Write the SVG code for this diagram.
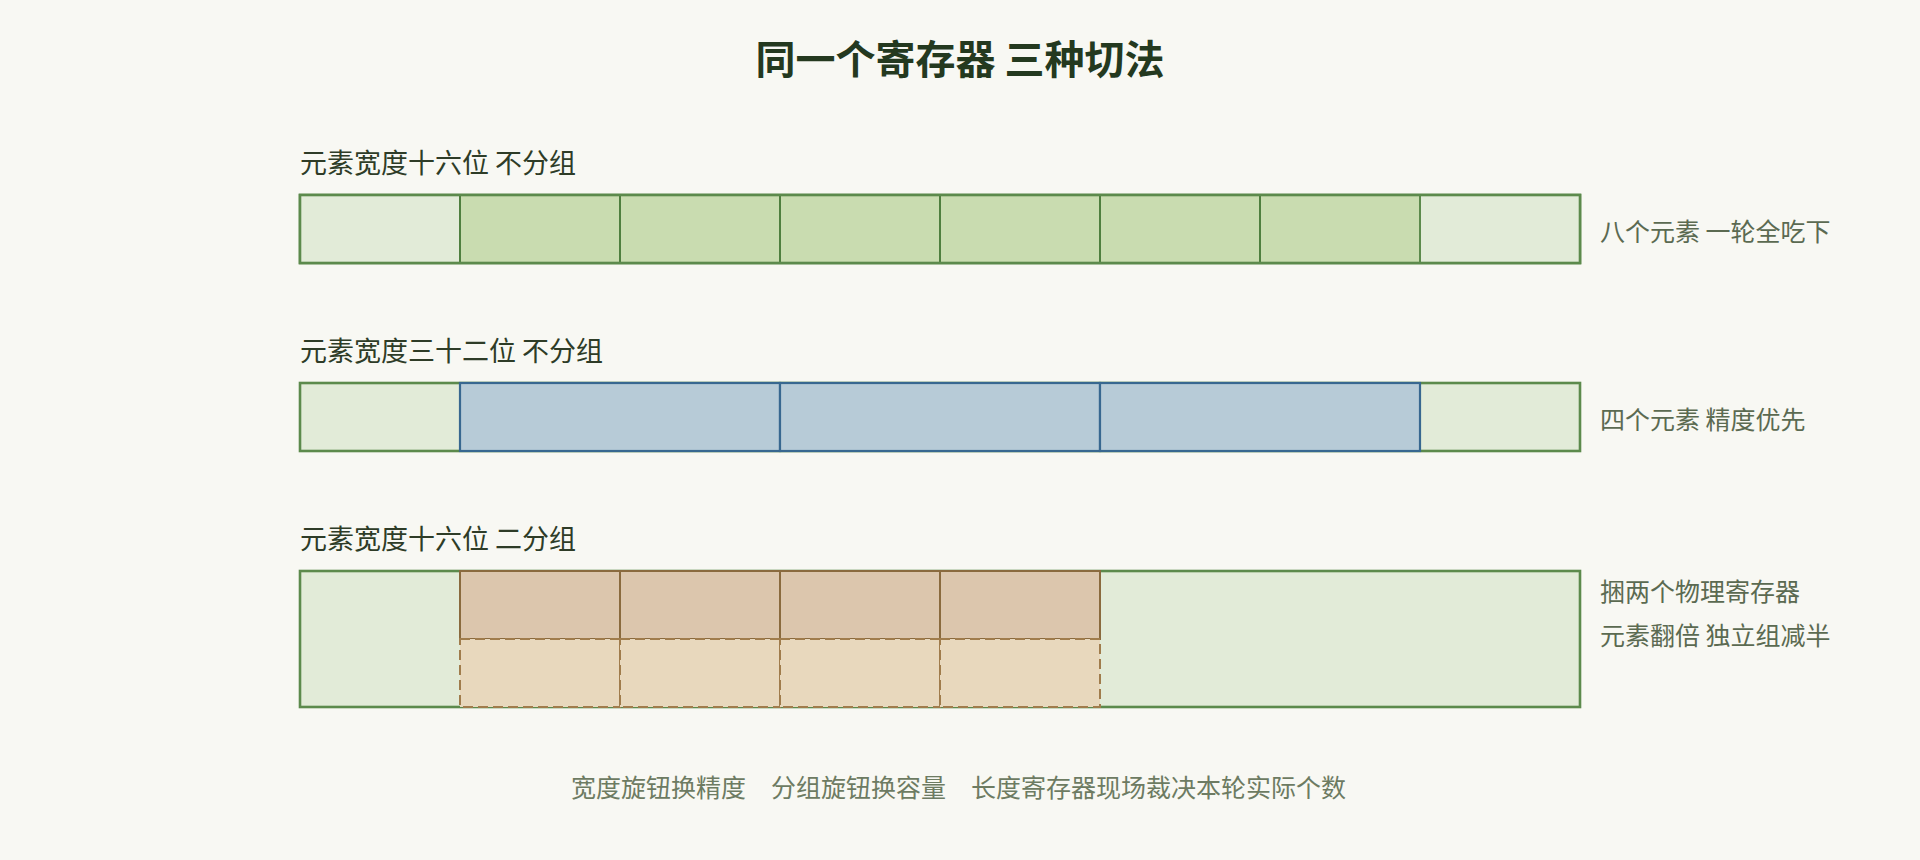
<svg xmlns="http://www.w3.org/2000/svg" width="1920" height="860" viewBox="0 0 1920 860">
<style>
text{font-family:"Noto Sans CJK SC","Noto Sans",sans-serif}
.title{font-size:40px;font-weight:700;fill:#24391f}
.lbl{font-size:27px;fill:#2e3c27}
.note{font-size:25px;fill:#5b6a51}
.foot{font-size:25px;fill:#6d7b62}
.outer{fill:#e2ebd8;stroke:#5c8a4c;stroke-width:2.6}
.g-light{fill:#e2ebd8;stroke:#5c8a4c;stroke-width:2}
.g-dark{fill:#c9dcb0;stroke:#4f7f3f;stroke-width:2}
.b{fill:#b7cbd7;stroke:#386890;stroke-width:2.2}
.br{fill:#dcc6ad;stroke:#8a6a3e;stroke-width:2}
.brd{fill:#e8d8bd;stroke:#a07c4c;stroke-width:2;stroke-dasharray:10 5}
</style>
<rect width="1920" height="860" fill="#f8f8f3"/>
<text class="title" x="960" y="74" text-anchor="middle">同一个寄存器 三种切法</text>

<g id="row1">
<text class="lbl" x="300" y="173">元素宽度十六位 不分组</text>
<rect class="outer" x="300" y="195" width="1280" height="68"/>
<rect class="g-light" x="300" y="195" width="160" height="68"/>
<rect class="g-dark" x="460" y="195" width="160" height="68"/>
<rect class="g-dark" x="620" y="195" width="160" height="68"/>
<rect class="g-dark" x="780" y="195" width="160" height="68"/>
<rect class="g-dark" x="940" y="195" width="160" height="68"/>
<rect class="g-dark" x="1100" y="195" width="160" height="68"/>
<rect class="g-dark" x="1260" y="195" width="160" height="68"/>
<rect class="g-light" x="1420" y="195" width="160" height="68"/>
<rect x="300" y="195" width="1280" height="68" fill="none" stroke="#5c8a4c" stroke-width="2.6"/>
<text class="note" x="1600" y="241">八个元素 一轮全吃下</text>
</g>

<g id="row2">
<text class="lbl" x="300" y="361">元素宽度三十二位 不分组</text>
<rect class="outer" x="300" y="383" width="1280" height="68"/>
<rect class="b" x="460" y="383" width="320" height="68"/>
<rect class="b" x="780" y="383" width="320" height="68"/>
<rect class="b" x="1100" y="383" width="320" height="68"/>
<text class="note" x="1600" y="429">四个元素 精度优先</text>
</g>

<g id="row3">
<text class="lbl" x="300" y="549">元素宽度十六位 二分组</text>
<rect class="outer" x="300" y="571" width="1280" height="136"/>
<rect class="br" x="460" y="571" width="160" height="68"/>
<rect class="br" x="620" y="571" width="160" height="68"/>
<rect class="br" x="780" y="571" width="160" height="68"/>
<rect class="br" x="940" y="571" width="160" height="68"/>
<rect class="brd" x="460" y="639" width="160" height="68"/>
<rect class="brd" x="620" y="639" width="160" height="68"/>
<rect class="brd" x="780" y="639" width="160" height="68"/>
<rect class="brd" x="940" y="639" width="160" height="68"/>
<text class="note" x="1600" y="601">捆两个物理寄存器</text>
<text class="note" x="1600" y="645">元素翻倍 独立组减半</text>
</g>

<g id="footer">
<text class="foot" x="571" y="797">宽度旋钮换精度</text>
<text class="foot" x="771" y="797">分组旋钮换容量</text>
<text class="foot" x="971" y="797">长度寄存器现场裁决本轮实际个数</text>
</g>
</svg>
